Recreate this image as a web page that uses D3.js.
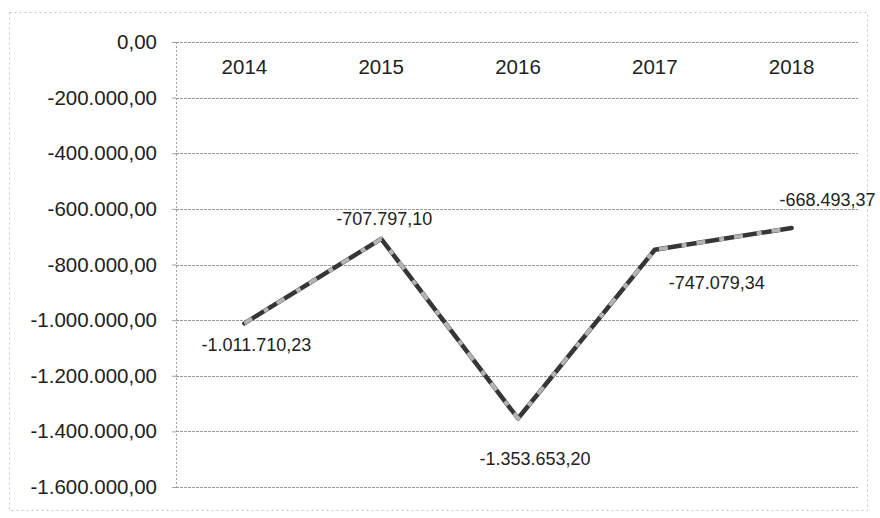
<!DOCTYPE html>
<html>
<head>
<meta charset="utf-8">
<script src="https://cdn.jsdelivr.net/npm/d3@7"></script>
<style>
  html, body { margin: 0; padding: 0; background: #fff; }
  svg { display: block; font-family: "Liberation Sans", Arial, sans-serif; }
</style>
</head>
<body>
<svg id="chart" width="880" height="518"></svg>
<script>
// ---- data ----
const categories = ["2014", "2015", "2016", "2017", "2018"];
const values = [-1011710.23, -707797.10, -1353653.20, -747079.34, -668493.37];
const yTicks = [0, -200000, -400000, -600000, -800000, -1000000, -1200000, -1400000, -1600000];
// label placement per point (style, not data)
const labelPlacement = ["below", "above", "belowFar", "belowRight", "aboveRight"];

(function () {
const locale = d3.formatLocale({ decimal: ",", thousands: ".", grouping: [3], currency: ["", ""], minus: "-" });
const fmt = locale.format(",.2f");

const svg = d3.select("#chart");
const mLeft = 176, mRight = 858, mTop = 42, mBottom = 487;

// outer faint border (scan frame)
svg.append("rect")
  .attr("x", 9.5).attr("y", 12.5).attr("width", 858).attr("height", 498)
  .attr("fill", "none").attr("stroke", "#c4c4c4").attr("stroke-width", 1)
  .attr("stroke-dasharray", "2,3");

const x = d3.scaleBand().domain(categories).range([mLeft, mRight + 2]).padding(0);
const y = d3.scaleLinear().domain([-1600000, 0]).range([mBottom, mTop]);

// gridlines
svg.append("g").selectAll("line").data(yTicks).join("line")
  .attr("x1", mLeft).attr("x2", mRight)
  .attr("y1", d => Math.round(y(d)) + 0.5).attr("y2", d => Math.round(y(d)) + 0.5)
  .attr("stroke", "#9a9a9a").attr("stroke-width", 1)
  .attr("stroke-dasharray", "3,1");

// y axis
const yAxis = d3.axisLeft(y).tickValues(yTicks).tickFormat(fmt).tickSize(4).tickPadding(15);
const gy = svg.append("g").attr("transform", `translate(${mLeft},0)`).call(yAxis);
gy.select(".domain").attr("stroke", "#a0a0a0").attr("stroke-dasharray", "2,2");
gy.selectAll(".tick line").attr("stroke", "#a0a0a0");
gy.selectAll(".tick text").attr("fill", "#222").style("font-size", "20.5px")
  .style("font-family", "'Liberation Sans', Arial, sans-serif");

// x axis labels (axis at value 0, labels below the line)
const xAxis = d3.axisBottom(x).tickSize(0).tickPadding(17);
const gx = svg.append("g").attr("transform", `translate(0,${y(0)})`).call(xAxis);
gx.select(".domain").remove();
gx.selectAll(".tick text").attr("fill", "#222").style("font-size", "20.5px")
  .style("font-family", "'Liberation Sans', Arial, sans-serif");

// line
const pts = categories.map((c, i) => ({ c, v: values[i], i }));
const line = d3.line().x(d => x(d.c) + x.bandwidth() / 2).y(d => y(d.v));
svg.append("path").datum(pts).attr("d", line)
  .attr("fill", "none").attr("stroke", "#363636").attr("stroke-width", 4.5)
  .attr("stroke-linejoin", "round").attr("stroke-linecap", "round");
svg.append("path").datum(pts).attr("d", line)
  .attr("fill", "none").attr("stroke", "#b3b3b3").attr("stroke-width", 4)
  .attr("stroke-dasharray", "9,14,5,10")
  .attr("stroke-linejoin", "round");

// data labels
const offsets = {
  below: [12, 23],
  above: [3, -19],
  belowFar: [17, 42],
  belowRight: [62, 34],
  aboveRight: [36, -27]
};
svg.append("g").selectAll("text").data(pts).join("text")
  .attr("x", d => x(d.c) + x.bandwidth() / 2 + offsets[labelPlacement[d.i]][0])
  .attr("y", d => y(d.v) + offsets[labelPlacement[d.i]][1])
  .attr("text-anchor", "middle").attr("dominant-baseline", "middle")
  .attr("fill", "#222").style("font-size", "18px")
  .text(d => fmt(d.v));
})();
</script>
</body>
</html>
